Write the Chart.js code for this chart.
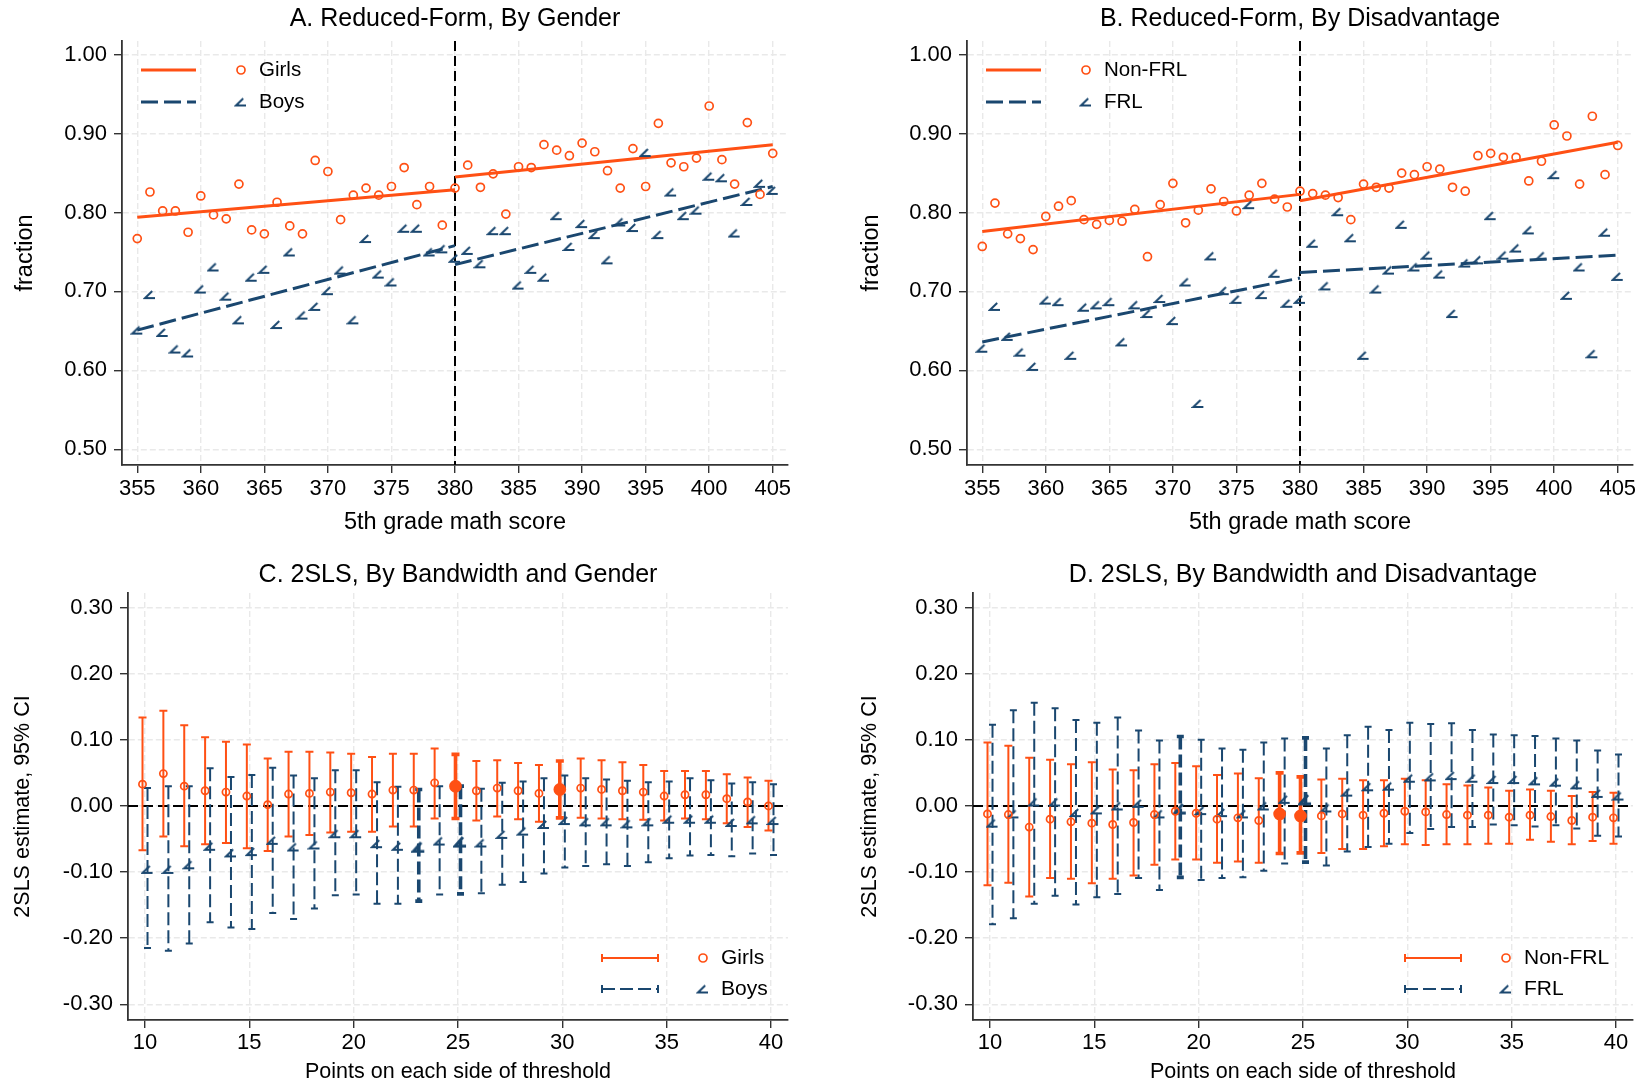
<!DOCTYPE html>
<html>
<head>
<meta charset="utf-8">
<script src="https://cdn.jsdelivr.net/npm/chart.js@4.4.0/dist/chart.umd.min.js"></script>
<style>
  html, body { margin: 0; padding: 0; background: #fff; }
  body { width: 1646px; height: 1088px; position: relative; overflow: hidden; }
  canvas { position: absolute; }
</style>
</head>
<body>
<canvas id="panelA" width="823" height="545" style="left:0;top:0"></canvas>
<canvas id="panelB" width="801" height="545" style="left:845px;top:0"></canvas>
<canvas id="panelC" width="823" height="537" style="left:0;top:551px"></canvas>
<canvas id="panelD" width="801" height="537" style="left:845px;top:551px"></canvas>
<script>
const FONT = "'Liberation Sans', Arial, sans-serif";
const ORANGE = '#ff5014';
const NAVY = '#1a476f';

// -------------------------
// DATA: panels A and B (fraction by 5th grade math score)
// -------------------------
const scores = [355, 356, 357, 358, 359, 360, 361, 362, 363, 364,
                365, 366, 367, 368, 369, 370, 371, 372, 373, 374,
                375, 376, 377, 378, 379, 380, 381, 382, 383, 384,
                385, 386, 387, 388, 389, 390, 391, 392, 393, 394,
                395, 396, 397, 398, 399, 400, 401, 402, 403, 404, 405];
const scoreTicks = [355, 360, 365, 370, 375, 380, 385, 390, 395, 400, 405];
const fracTicks = [0.5, 0.6, 0.7, 0.8, 0.9, 1.0];
const cutoff = 380;

const girlsFrac = [0.767, 0.826, 0.802, 0.802, 0.775, 0.821, 0.797, 0.792, 0.836, 0.778,
                   0.773, 0.813, 0.783, 0.773, 0.866, 0.852, 0.791, 0.822, 0.831, 0.822,
                   0.833, 0.857, 0.810, 0.833, 0.784, 0.831, 0.860, 0.832, 0.849, 0.798,
                   0.858, 0.857, 0.886, 0.879, 0.872, 0.888, 0.877, 0.853, 0.831, 0.881,
                   0.833, 0.913, 0.863, 0.858, 0.869, 0.935, 0.867, 0.836, 0.914, 0.823, 0.875];
const boysFrac = [0.651, 0.696, 0.648, 0.627, 0.622, 0.703, 0.731, 0.694, 0.664, 0.718,
                  0.728, 0.658, 0.750, 0.670, 0.681, 0.701, 0.727, 0.664, 0.767, 0.722,
                  0.712, 0.780, 0.780, 0.750, 0.754, 0.742, 0.752, 0.735, 0.777, 0.777,
                  0.708, 0.728, 0.718, 0.796, 0.757, 0.786, 0.772, 0.740, 0.788, 0.781,
                  0.876, 0.772, 0.826, 0.796, 0.803, 0.846, 0.844, 0.774, 0.814, 0.837, 0.828];
const nonFrlFrac = [0.757, 0.812, 0.773, 0.767, 0.753, 0.795, 0.808, 0.815, 0.791, 0.785,
                    0.790, 0.789, 0.804, 0.744, 0.810, 0.837, 0.787, 0.803, 0.830, 0.814,
                    0.802, 0.822, 0.837, 0.817, 0.807, 0.827, 0.824, 0.822, 0.819, 0.791,
                    0.836, 0.832, 0.831, 0.850, 0.848, 0.858, 0.855, 0.832, 0.827, 0.872,
                    0.875, 0.870, 0.870, 0.840, 0.865, 0.911, 0.897, 0.836, 0.922, 0.848, 0.885];
const frlFrac = [0.628, 0.681, 0.643, 0.623, 0.605, 0.689, 0.687, 0.619, 0.680, 0.683,
                 0.687, 0.636, 0.683, 0.672, 0.691, 0.663, 0.712, 0.558, 0.745, 0.701,
                 0.690, 0.810, 0.696, 0.723, 0.685, 0.690, 0.761, 0.707, 0.801, 0.768,
                 0.619, 0.703, 0.727, 0.785, 0.731, 0.746, 0.722, 0.672, 0.736, 0.740,
                 0.796, 0.746, 0.755, 0.778, 0.745, 0.848, 0.695, 0.731, 0.621, 0.775, 0.719];

// fitted lines, each side of the cutoff
const fitLeftX = [355, 380];
const fitRightX = [380, 405];
const girlsFitLeft = [0.794, 0.829];
const girlsFitRight = [0.845, 0.886];
const boysFitLeft = [0.651, 0.758];
const boysFitRight = [0.734, 0.833];
const nonFrlFitLeft = [0.776, 0.823];
const nonFrlFitRight = [0.815, 0.889];
const frlFitLeft = [0.636, 0.717];
const frlFitRight = [0.724, 0.746];

// -------------------------
// DATA: panels C and D (2SLS by bandwidth)
// -------------------------
const bandwidths = [10, 11, 12, 13, 14, 15, 16, 17, 18, 19, 20, 21, 22, 23, 24, 25,
                    26, 27, 28, 29, 30, 31, 32, 33, 34, 35, 36, 37, 38, 39, 40];
const bwTicks = [10, 15, 20, 25, 30, 35, 40];
const estTicks = [-0.3, -0.2, -0.1, 0, 0.1, 0.2, 0.3];

const girlsEst = [0.033, 0.049, 0.030, 0.023, 0.021, 0.015, 0.002, 0.018, 0.019, 0.021,
                  0.020, 0.018, 0.024, 0.024, 0.035, 0.030, 0.023, 0.027, 0.023, 0.019,
                  0.025, 0.027, 0.025, 0.023, 0.021, 0.015, 0.017, 0.017, 0.011, 0.006, 0.000];
const girlsHi = [0.134, 0.144, 0.122, 0.104, 0.097, 0.093, 0.072, 0.082, 0.082, 0.081,
                 0.079, 0.074, 0.079, 0.079, 0.087, 0.078, 0.068, 0.069, 0.065, 0.062,
                 0.068, 0.072, 0.069, 0.066, 0.062, 0.053, 0.053, 0.053, 0.048, 0.043, 0.038];
const girlsLo = [-0.067, -0.046, -0.061, -0.058, -0.056, -0.064, -0.068, -0.046, -0.044, -0.040,
                 -0.039, -0.039, -0.031, -0.031, -0.019, -0.019, -0.022, -0.016, -0.020, -0.024,
                 -0.018, -0.018, -0.019, -0.020, -0.021, -0.022, -0.019, -0.020, -0.026, -0.032, -0.037];
const girlsBold = [25, 30];

const boysEst = [-0.096, -0.096, -0.089, -0.061, -0.071, -0.069, -0.052, -0.062, -0.059, -0.042,
                 -0.042, -0.057, -0.061, -0.062, -0.053, -0.054, -0.056, -0.043, -0.038, -0.028,
                 -0.022, -0.024, -0.024, -0.027, -0.024, -0.020, -0.020, -0.020, -0.025, -0.021, -0.022];
const boysHi = [0.027, 0.030, 0.030, 0.057, 0.044, 0.047, 0.058, 0.046, 0.042, 0.054,
                0.054, 0.036, 0.029, 0.025, 0.030, 0.030, 0.026, 0.035, 0.037, 0.042,
                0.046, 0.042, 0.040, 0.038, 0.036, 0.037, 0.042, 0.039, 0.034, 0.036, 0.033];
const boysLo = [-0.215, -0.219, -0.208, -0.176, -0.184, -0.186, -0.162, -0.171, -0.155, -0.135,
                -0.134, -0.148, -0.148, -0.144, -0.134, -0.133, -0.132, -0.119, -0.115, -0.102,
                -0.093, -0.091, -0.088, -0.091, -0.085, -0.079, -0.075, -0.074, -0.076, -0.072, -0.074];
const boysBold = [23, 25];

const nonFrlEst = [-0.012, -0.013, -0.032, -0.020, -0.024, -0.026, -0.028, -0.025, -0.013, -0.008,
                   -0.011, -0.020, -0.018, -0.022, -0.012, -0.015, -0.015, -0.012, -0.014, -0.011,
                   -0.008, -0.009, -0.013, -0.014, -0.014, -0.017, -0.014, -0.016, -0.022, -0.017, -0.018];
const nonFrlHi = [0.096, 0.091, 0.073, 0.070, 0.063, 0.066, 0.055, 0.054, 0.063, 0.065,
                  0.060, 0.047, 0.049, 0.042, 0.050, 0.044, 0.040, 0.041, 0.039, 0.039,
                  0.041, 0.039, 0.033, 0.031, 0.028, 0.023, 0.025, 0.023, 0.015, 0.021, 0.020];
const nonFrlLo = [-0.120, -0.116, -0.137, -0.109, -0.110, -0.117, -0.110, -0.105, -0.089, -0.081,
                  -0.081, -0.086, -0.084, -0.086, -0.072, -0.071, -0.071, -0.065, -0.065, -0.061,
                  -0.058, -0.059, -0.058, -0.058, -0.057, -0.057, -0.051, -0.054, -0.058, -0.053, -0.057];
const nonFrlBold = [24, 25];

const frlEst = [-0.026, -0.012, 0.006, 0.006, -0.010, -0.006, 0.000, 0.004, -0.012, -0.004,
                -0.007, -0.010, -0.012, 0.000, 0.010, 0.010, -0.003, 0.021, 0.029, 0.030,
                0.042, 0.044, 0.046, 0.042, 0.040, 0.040, 0.038, 0.036, 0.032, 0.019, 0.015];
const frlHi = [0.123, 0.145, 0.156, 0.148, 0.130, 0.126, 0.134, 0.114, 0.099, 0.105,
               0.100, 0.087, 0.085, 0.096, 0.102, 0.103, 0.087, 0.107, 0.120, 0.115,
               0.126, 0.124, 0.125, 0.115, 0.108, 0.107, 0.106, 0.102, 0.099, 0.084, 0.078];
const frlLo = [-0.179, -0.170, -0.148, -0.136, -0.149, -0.138, -0.133, -0.109, -0.127, -0.108,
               -0.112, -0.109, -0.108, -0.098, -0.087, -0.085, -0.090, -0.069, -0.062, -0.057,
               -0.041, -0.035, -0.032, -0.032, -0.028, -0.029, -0.031, -0.029, -0.034, -0.045, -0.046];
const frlBold = [19, 25];

// -------------------------
// HELPERS
// -------------------------
const DODGE = 0.12;
const BAR_DASH = [13, 5];

function pts(xs, ys, shift) {
    return xs.map((x, i) => ({ x: x + (shift || 0), y: ys[i] }));
}

// the "angle" marker used for the second group
function angleMarker(w, h, lw) {
    const c = document.createElement('canvas');
    c.width = w + 4;
    c.height = h + 4;
    const g = c.getContext('2d');
    g.strokeStyle = NAVY;
    g.lineWidth = lw;
    g.beginPath();
    g.moveTo(2 + w * 0.72, 2);
    g.lineTo(2, 2 + h);
    g.lineTo(2 + w, 2 + h);
    g.stroke();
    return c;
}
const angleSmall = angleMarker(10, 7, 2);
const angleBold = angleMarker(11, 9, 3);

function refLine(axis, value) {
    return {
        id: 'refLine',
        beforeDatasetsDraw(chart) {
            const { ctx, chartArea: a, scales } = chart;
            ctx.save();
            ctx.strokeStyle = '#000';
            ctx.lineWidth = 2;
            ctx.setLineDash([10, 5]);
            ctx.beginPath();
            if (axis === 'x') {
                const px = scales.x.getPixelForValue(value);
                ctx.moveTo(px, a.top);
                ctx.lineTo(px, a.bottom);
            } else {
                const py = scales.y.getPixelForValue(value);
                ctx.moveTo(a.left, py);
                ctx.lineTo(a.right, py);
            }
            ctx.stroke();
            ctx.restore();
        }
    };
}

const errorBars = {
    id: 'errorBars',
    beforeDatasetsDraw(chart) {
        const { ctx, scales: { x, y } } = chart;
        ctx.save();
        chart.data.datasets.forEach(ds => {
            if (!ds.lo) return;
            ds.data.forEach((p, i) => {
                const bold = ds.bold.includes(ds.bw[i]);
                const px = x.getPixelForValue(p.x);
                const yl = y.getPixelForValue(ds.lo[i]);
                const yh = y.getPixelForValue(ds.hi[i]);
                ctx.strokeStyle = ds.barColor;
                ctx.lineWidth = bold ? 3.6 : 2;
                ctx.setLineDash(ds.barDash);
                ctx.beginPath();
                ctx.moveTo(px, yh);
                ctx.lineTo(px, yl);
                ctx.stroke();
                ctx.setLineDash([]);
                ctx.beginPath();
                ctx.moveTo(px - ds.cap, yh);
                ctx.lineTo(px + ds.cap, yh);
                ctx.moveTo(px - ds.cap, yl);
                ctx.lineTo(px + ds.cap, yl);
                ctx.stroke();
            });
        });
        ctx.restore();
    }
};

// legend drawn the Stata way: line/bar sample, then marker, then label
function stataLegend(cfg) {
    return {
        id: 'stataLegend',
        afterDraw(chart) {
            const { ctx, chartArea: a } = chart;
            const x0 = cfg.anchor === 'tl' ? a.left : a.right;
            const y0 = cfg.anchor === 'tl' ? a.top : a.bottom;
            ctx.save();
            cfg.items.forEach((it, i) => {
                const y = y0 + cfg.rows[i];
                const xa = x0 + cfg.sample[0];
                const xb = x0 + cfg.sample[1];
                ctx.strokeStyle = it.color;
                ctx.lineWidth = it.kind === 'line' ? 3 : 2;
                ctx.setLineDash(it.dash);
                ctx.beginPath();
                ctx.moveTo(xa, y);
                ctx.lineTo(xb, y);
                ctx.stroke();
                ctx.setLineDash([]);
                if (it.kind === 'err') {
                    ctx.beginPath();
                    ctx.moveTo(xa, y - 4); ctx.lineTo(xa, y + 4);
                    ctx.moveTo(xb, y - 4); ctx.lineTo(xb, y + 4);
                    ctx.stroke();
                }
                const xm = x0 + cfg.marker;
                if (it.marker === 'circle') {
                    ctx.lineWidth = 1.7;
                    ctx.beginPath();
                    ctx.arc(xm, y, 4, 0, Math.PI * 2);
                    ctx.stroke();
                } else {
                    ctx.drawImage(angleSmall, xm - angleSmall.width / 2, y - angleSmall.height / 2);
                }
                ctx.fillStyle = '#000';
                ctx.font = cfg.size + 'px ' + FONT;
                ctx.textAlign = 'left';
                ctx.textBaseline = 'middle';
                ctx.fillText(it.label, x0 + cfg.text, y);
            });
            ctx.restore();
        }
    };
}

function axes(o) {
    const gridOpts = () => ({
        color: '#e9e9e9', lineWidth: 1.4,
        tickColor: '#333', tickLength: 8, tickWidth: 1.4, tickBorderDash: []
    });
    const borderOpts = () => ({ display: true, color: '#333', width: 1.8, dash: [6, 3] });
    return {
        x: {
            type: 'linear', min: o.xMin, max: o.xMax,
            afterBuildTicks: s => { s.ticks = o.xTicks.map(v => ({ value: v })); },
            afterFit: s => { s.height = o.xHeight; },
            ticks: {
                font: { family: FONT, size: 22 }, color: '#000', padding: o.xPad,
                maxRotation: 0, autoSkip: false, callback: v => String(v)
            },
            grid: gridOpts(),
            border: borderOpts(),
            title: {
                display: true, text: o.xTitle, color: '#000',
                font: { family: FONT, size: o.axisTitleSize },
                padding: { top: 0, bottom: o.xTitlePad }
            }
        },
        y: {
            type: 'linear', min: o.yMin, max: o.yMax,
            afterBuildTicks: s => { s.ticks = o.yTicks.map(v => ({ value: v })); },
            afterFit: s => { s.width = o.yWidth; },
            ticks: {
                font: { family: FONT, size: 22 }, color: '#000', padding: 7,
                autoSkip: false, callback: v => v.toFixed(2)
            },
            grid: gridOpts(),
            border: borderOpts(),
            title: {
                display: true, text: o.yTitle, color: '#000',
                font: { family: FONT, size: o.axisTitleSize },
                padding: { top: o.yTitlePad, bottom: 0 }
            }
        }
    };
}

function baseOptions(o) {
    return {
        responsive: false,
        animation: false,
        devicePixelRatio: 1,
        events: [],
        layout: { padding: { left: 0, right: o.padRight, top: 0, bottom: 0 } },
        plugins: {
            legend: { display: false },
            tooltip: { enabled: false },
            title: {
                display: true, text: o.title, color: '#000', fullSize: false,
                font: { family: FONT, size: 25, weight: 'normal' },
                padding: o.titlePad
            }
        },
        scales: axes(o)
    };
}

// -------------------------
// PANELS A, B
// -------------------------
function scorePanel(id, o) {
    const datasets = [
        { data: pts(scores, o.orange), pointStyle: 'circle', pointRadius: 4, pointBorderWidth: 1.7,
          pointBorderColor: ORANGE, pointBackgroundColor: 'rgba(0,0,0,0)' },
        { data: pts(scores, o.navy), pointStyle: angleSmall, pointRadius: 5 },
        { data: pts(fitLeftX, o.orangeFit[0]), showLine: true, borderColor: ORANGE, borderWidth: 3, pointRadius: 0 },
        { data: pts(fitRightX, o.orangeFit[1]), showLine: true, borderColor: ORANGE, borderWidth: 3, pointRadius: 0 },
        { data: pts(fitLeftX, o.navyFit[0]), showLine: true, borderColor: NAVY, borderWidth: 3,
          borderDash: [17, 6], pointRadius: 0 },
        { data: pts(fitRightX, o.navyFit[1]), showLine: true, borderColor: NAVY, borderWidth: 3,
          borderDash: [17, 6], pointRadius: 0 }
    ];
    new Chart(document.getElementById(id), {
        type: 'scatter',
        data: { datasets },
        options: baseOptions(Object.assign({
            xMin: 353.8, xMax: 406.2, xTicks: scoreTicks, xHeight: 80, xPad: 3,
            xTitle: '5th grade math score', xTitlePad: 8,
            yMin: 0.48, yMax: 1.0174, yTicks: fracTicks, yWidth: 122,
            yTitle: 'fraction', axisTitleSize: 23.5,
            titlePad: { top: 4, bottom: 7 }
        }, o)),
        plugins: [refLine('x', cutoff), stataLegend({
            anchor: 'tl', sample: [19, 74], marker: 119, text: 137, rows: [29, 61], size: 20.5,
            items: [
                { kind: 'line', color: ORANGE, dash: [], marker: 'circle', label: o.labels[0] },
                { kind: 'line', color: NAVY, dash: [17, 6], marker: 'angle', label: o.labels[1] }
            ]
        })]
    });
}

scorePanel('panelA', {
    title: 'A. Reduced-Form, By Gender', labels: ['Girls', 'Boys'],
    orange: girlsFrac, navy: boysFrac,
    orangeFit: [girlsFitLeft, girlsFitRight], navyFit: [boysFitLeft, boysFitRight],
    padRight: 35, yTitlePad: 11
});
scorePanel('panelB', {
    title: 'B. Reduced-Form, By Disadvantage', labels: ['Non-FRL', 'FRL'],
    orange: nonFrlFrac, navy: frlFrac,
    orangeFit: [nonFrlFitLeft, nonFrlFitRight], navyFit: [frlFitLeft, frlFitRight],
    padRight: 13, yTitlePad: 12
});

// -------------------------
// PANELS C, D
// -------------------------
function ciPanel(id, o) {
    const isBold = c => c.dataset.bold.includes(c.dataset.bw[c.dataIndex]);
    const datasets = [
        { data: pts(bandwidths, o.orange[0], -DODGE), lo: o.orange[2], hi: o.orange[1], bold: o.orange[3],
          bw: bandwidths, barColor: ORANGE, barDash: [], cap: 4,
          pointStyle: 'circle', pointBorderWidth: 1.7, pointBorderColor: ORANGE,
          pointRadius: c => isBold(c) ? 5.5 : 3.6,
          pointBackgroundColor: c => isBold(c) ? ORANGE : 'rgba(0,0,0,0)' },
        { data: pts(bandwidths, o.navy[0], DODGE), lo: o.navy[2], hi: o.navy[1], bold: o.navy[3],
          bw: bandwidths, barColor: NAVY, barDash: BAR_DASH, cap: 3.5,
          pointStyle: c => isBold(c) ? angleBold : angleSmall, pointRadius: 5 }
    ];
    new Chart(document.getElementById(id), {
        type: 'scatter',
        data: { datasets },
        options: baseOptions(Object.assign({
            xMin: 9.185, xMax: 40.815, xTicks: bwTicks, xHeight: 68, xPad: 2,
            xTitle: 'Points on each side of threshold', xTitlePad: 3,
            yMin: -0.3238, yMax: 0.3222, yTicks: estTicks, yWidth: 128,
            yTitle: '2SLS estimate, 95% CI', axisTitleSize: 21.5,
            titlePad: { top: 9, bottom: 3 }
        }, o)),
        plugins: [refLine('y', 0), errorBars, stataLegend({
            anchor: 'br', sample: o.legendX[0], marker: o.legendX[1], text: o.legendX[2],
            rows: [-62, -31], size: 21,
            items: [
                { kind: 'err', color: ORANGE, dash: [], marker: 'circle', label: o.labels[0] },
                { kind: 'err', color: NAVY, dash: BAR_DASH, marker: 'angle', label: o.labels[1] }
            ]
        })]
    });
}

ciPanel('panelC', {
    title: 'C. 2SLS, By Bandwidth and Gender', labels: ['Girls', 'Boys'],
    orange: [girlsEst, girlsHi, girlsLo, girlsBold],
    navy: [boysEst, boysHi, boysLo, boysBold],
    legendX: [[-186, -130], -85, -67],
    padRight: 35, yTitlePad: 10
});
ciPanel('panelD', {
    title: 'D. 2SLS, By Bandwidth and Disadvantage', labels: ['Non-FRL', 'FRL'],
    orange: [nonFrlEst, nonFrlHi, nonFrlLo, nonFrlBold],
    navy: [frlEst, frlHi, frlLo, frlBold],
    legendX: [[-228, -172], -127, -109],
    padRight: 13, yTitlePad: 12
});
</script>
</body>
</html>
